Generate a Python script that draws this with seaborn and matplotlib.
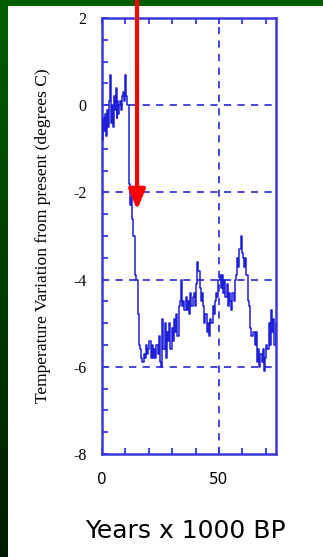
"""
Temperatura ao longo dos ultimos 75 mil anos
"""
import matplotlib
matplotlib.use("Agg")
import matplotlib.pyplot as plt
from matplotlib.patches import Rectangle
from matplotlib.ticker import MultipleLocator
import numpy as np
import pandas as pd
import seaborn as sns

years = [0, 0.4, 0.8, 1.2, 1.6, 2.0, 2.4, 2.8, 3.2, 3.6, 4.0, 4.4, 4.8, 5.2, 5.6,
         6.0, 6.4, 6.8, 7.2, 7.6, 8.0, 8.4, 8.8, 9.2, 9.6, 10.0, 10.4, 10.8, 11.2,
         11.6, 12.2, 12.6, 13.0, 13.4, 14.0, 14.3, 15.0, 15.5, 16.0, 16.5, 17.0,
         17.5, 18.0, 18.5, 19.0, 19.5, 20.0, 20.5, 21.0, 21.5, 22.0, 22.5, 23.0,
         23.5, 24.0, 24.5, 25.0, 25.5, 26.0, 26.5, 27.0, 27.5, 28.0, 28.5, 29.0,
         29.5, 30.0, 30.5, 31.0, 31.5, 32.0, 32.5, 33.0, 33.5, 34.0, 34.5, 35.0,
         35.5, 36.0, 36.5, 37.0, 37.5, 38.0, 38.5, 39.0, 39.5, 40.0, 40.5, 41.0,
         41.5, 42.0, 42.5, 43.0, 43.5, 44.0, 44.5, 45.0, 45.5, 46.0, 46.5, 47.0,
         47.5, 48.0, 48.5, 49.0, 49.5, 50.0, 50.5, 51.0, 51.5, 52.0, 52.5, 53.0,
         53.5, 54.0, 54.5, 55.0, 55.5, 56.0, 56.5, 57.0, 57.5, 58.0, 58.5, 59.0,
         59.5, 60.0, 60.5, 61.0, 61.5, 62.0, 62.5, 63.0, 63.5, 64.0, 64.5, 65.0,
         65.5, 66.0, 66.5, 67.0, 67.5, 68.0, 68.5, 69.0, 69.5, 70.0, 70.5, 71.0,
         71.5, 72.0, 72.5, 73.0, 73.5, 74.0, 74.4]
temp = [-0.4, -0.8, -0.3, -0.6, -0.2, -0.7, -0.1, -0.5, 0.1, 0.7, -0.4, 0.0,
        -0.5, 0.2, -0.1, 0.4, -0.3, 0.1, -0.2, 0.0, 0.1, -0.1, 0.2, 0.3, 0.1,
        0.7, 0.2, 0.0, 0.0,
        -1.8, -2.3, -2.1, -2.6, -3.0, -3.0, -3.9, -4.0, -4.8, -5.5, -5.6, -5.8,
        -5.9, -5.7, -5.8, -5.5, -5.7, -5.6, -5.4, -5.8, -5.5, -5.8, -5.6, -5.8,
        -5.5, -5.7, -5.3, -5.9, -6.0, -4.9, -5.6, -5.0, -5.8, -5.2, -5.4, -5.0,
        -5.6, -5.1, -5.4, -4.9, -5.2, -4.8, -5.3, -4.6, -4.5, -4.0, -4.6, -4.5,
        -4.7, -4.4, -4.7, -4.5, -4.8, -4.3, -4.6, -4.4, -4.3, -4.6, -4.1, -3.6,
        -3.8, -4.2, -4.5, -4.3, -4.6, -5.0, -4.8, -5.2, -5.0, -5.3, -4.9, -5.0,
        -4.6, -4.8, -4.5, -4.3, -4.4, -4.0, -3.9, -4.2, -3.9, -4.3, -4.0, -4.4,
        -4.1, -4.6, -4.3, -4.5, -4.7, -4.3, -4.5, -4.0, -3.9, -3.5, -3.7, -3.3,
        -3.0, -3.4, -3.5, -3.7, -3.5, -3.9, -4.5, -4.6, -5.1, -5.3, -5.3, -5.2,
        -5.5, -5.2, -5.9, -5.6, -6.0, -5.7, -5.9, -5.6, -6.1, -5.8, -5.5, -5.6,
        -5.0, -5.5, -4.7, -5.2, -4.9, -5.5, -5.0]

y_ticks = [2, 0, -2, -4, -6, -8]
x_ticks = [0, 50]
grid_y = [0, -2, -4, -6]
grid_x = [50]

blue = "#3838dc"
line_blue = "#1f1fd8"

sns.set_style("white")
plt.rcParams["axes.unicode_minus"] = False
plt.rcParams["text.color"] = "black"
plt.rcParams["xtick.labelcolor"] = "black"
plt.rcParams["ytick.labelcolor"] = "black"
plt.rcParams["axes.labelcolor"] = "black"

fig = plt.figure(figsize=(3.23, 5.57), dpi=100)
fig.patch.set_facecolor("white")

# moldura verde
fig.add_artist(Rectangle((0, 1 - 6 / 557), 1, 6 / 557, transform=fig.transFigure,
                         color="#005e00", lw=0, zorder=0))
grad = np.linspace(0, 1, 256).reshape(-1, 1)
lax = fig.add_axes([0, 0, 8 / 323, 1 - 6 / 557])
lax.imshow(grad, aspect="auto", cmap=matplotlib.colors.LinearSegmentedColormap.from_list(
    "g", ["#005e00", "#001c00"]), extent=[0, 1, 0, 1], origin="upper")
lax.axis("off")

ax = fig.add_axes([102 / 323, 1 - 454 / 557, 174 / 323, 436 / 557])
df = pd.DataFrame({"years": years, "temp": temp})
sns.lineplot(data=df, x="years", y="temp", ax=ax, color=line_blue, lw=1.1,
             drawstyle="steps-mid", zorder=3)

for g in grid_y:
    ax.axhline(g, color=blue, lw=1.3, ls=(0, (4, 3.5)), zorder=2)
for g in grid_x:
    ax.axvline(g, color=blue, lw=1.3, ls=(0, (4, 3.5)), zorder=2)

ax.set_xlim(0, 74.4)
ax.set_ylim(-8, 2)
ax.set_xticks(x_ticks)
ax.set_yticks(y_ticks)
ax.xaxis.set_minor_locator(MultipleLocator(10))
ax.yaxis.set_minor_locator(MultipleLocator(0.5))
ax.tick_params(axis="both", which="both", direction="in", color=blue, width=1.3,
               length=4, top=True, right=False, bottom=True, left=True)
ax.tick_params(axis="y", which="major", pad=11, labelsize=11.5)
ax.tick_params(axis="x", which="major", pad=13, labelsize=11)
for lab in ax.get_yticklabels():
    lab.set_family("Liberation Serif")
for lab in ax.get_xticklabels():
    lab.set_family("DejaVu Sans")
for s in ax.spines.values():
    s.set_color(blue)
    s.set_linewidth(1.8)
    s.set_visible(True)

ax.set_xlabel("")
ax.set_ylabel("Temperature Variation from present (degrees C)",
              family="Liberation Serif", fontsize=12.6, labelpad=16)

# seta vermelha
ax.annotate("", xy=(15, -2.4), xycoords="data",
            xytext=(137 / 323, 1.0), textcoords="figure fraction",
            arrowprops=dict(arrowstyle="-|>,head_length=1.2,head_width=0.5",
                            color="red", lw=3, shrinkA=0, shrinkB=0),
            annotation_clip=False, zorder=5)

fig.text(185 / 323, 1 - 531 / 557, "Years x 1000 BP", ha="center", va="center",
         fontsize=18, family="DejaVu Sans", color="black")

fig.savefig("out.png", dpi=100, facecolor=fig.get_facecolor())
